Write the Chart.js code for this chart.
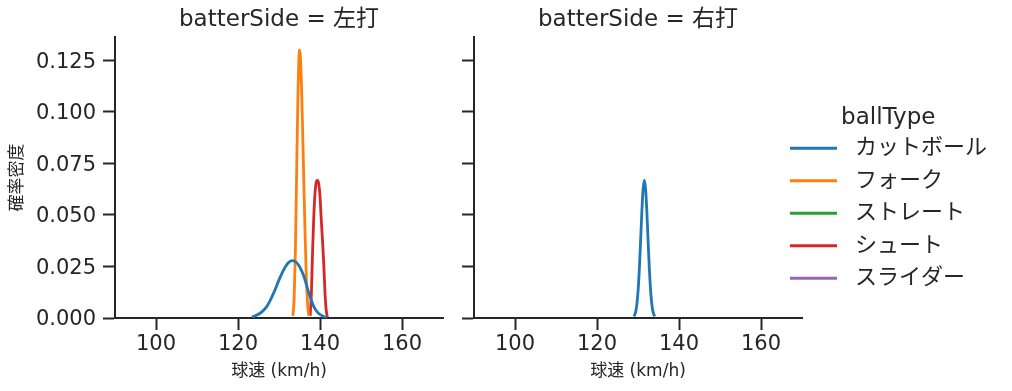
<!DOCTYPE html>
<html>
<head>
<meta charset="utf-8">
<script src="https://cdn.jsdelivr.net/npm/chart.js@4"></script>
<style>
  body { margin: 0; background: #fff; }
  #wrap { position: relative; width: 1012px; height: 391px; overflow: hidden; }
  canvas { position: absolute; top: 0; }
</style>
</head>
<body>
<div id="wrap">
  <canvas id="left-chart" width="450" height="391" style="left:0"></canvas>
  <canvas id="right-chart" width="360" height="391" style="left:450px"></canvas>
  <canvas id="legend-chart" width="520" height="391" style="left:770px"></canvas>
</div>
<script>
const ink = '#262626';
const speedTicks = [100, 120, 140, 160];
const densityTicks = [0, 0.025, 0.05, 0.075, 0.1, 0.125];
const ballTypes = ['カットボール', 'フォーク', 'ストレート', 'シュート', 'スライダー'];
const ballColors = ['#1f77b4', '#ff7f0e', '#2ca02c', '#d62728', '#9467bd'];

// batterSide = 左打
const lhCutterSpeed = [123.4, 124.5, 125.9, 127.0, 127.9, 129.0, 129.9, 130.8, 131.6, 132.4, 133.2, 134.0, 134.8, 135.5, 136.1, 136.7, 137.3, 137.9, 138.5, 139.1, 139.7, 140.5, 141.2, 141.8];
const lhCutterDensity = [0.0004, 0.0013, 0.0031, 0.0055, 0.0087, 0.0135, 0.0180, 0.0220, 0.0250, 0.0270, 0.0278, 0.0273, 0.0256, 0.0230, 0.0200, 0.0160, 0.0120, 0.0085, 0.0055, 0.0035, 0.0022, 0.0011, 0.0004, 0.0001];
const lhForkSpeed = [133.4, 133.7, 134.0, 134.3, 134.6, 134.8, 135.0, 135.2, 135.5, 135.8, 136.1, 136.4, 136.7, 137.0, 137.3];
const lhForkDensity = [0.0010, 0.0100, 0.0330, 0.0700, 0.1060, 0.1230, 0.1300, 0.1270, 0.1120, 0.0880, 0.0620, 0.0380, 0.0180, 0.0060, 0.0010];
const lhShootSpeed = [137.6, 137.9, 138.2, 138.5, 138.8, 139.1, 139.4, 139.7, 140.0, 140.3, 140.6, 140.9, 141.2, 141.5, 141.8];
const lhShootDensity = [0.0010, 0.0120, 0.0330, 0.0500, 0.0610, 0.0660, 0.0667, 0.0650, 0.0590, 0.0480, 0.0380, 0.0270, 0.0130, 0.0040, 0.0005];

// batterSide = 右打
const rhCutterSpeed = [129.0, 129.15, 129.45, 129.75, 130.05, 130.35, 130.65, 130.95, 131.25, 131.55, 131.85, 132.15, 132.45, 132.75, 133.05, 133.35, 133.65, 133.95, 134.1];
const rhCutterDensity = [0.0008, 0.0013, 0.0031, 0.0071, 0.0141, 0.0247, 0.0380, 0.0520, 0.0627, 0.0667, 0.0627, 0.0520, 0.0380, 0.0247, 0.0141, 0.0071, 0.0031, 0.0013, 0.0008];

Chart.defaults.font.family = "'DejaVu Sans', 'Noto Sans CJK JP', sans-serif";
Chart.defaults.color = ink;

function pts(xs, ys) {
  return xs.map((x, i) => ({ x: x, y: ys[i] }));
}

function buildDatasets(curves) {
  return ballTypes.map((name, i) => ({
    label: name,
    data: curves[name] ? pts(curves[name][0], curves[name][1]) : [],
    borderColor: ballColors[i],
    backgroundColor: ballColors[i],
    borderWidth: 2.8,
    pointRadius: 0,
    cubicInterpolationMode: 'monotone',
    fill: false
  }));
}

function panelOptions(title, isLeft) {
  return {
    responsive: false,
    animation: false,
    layout: { padding: { left: 0, right: isLeft ? 7 : 8, top: 0, bottom: 0 } },
    plugins: {
      title: {
        display: true, text: title, fullSize: false, color: ink,
        font: { size: 23, weight: 'normal' }, padding: { top: 6, bottom: 3.4 }
      },
      legend: { display: false },
      tooltip: { enabled: false }
    },
    scales: {
      x: {
        type: 'linear', min: 90, max: 170,
        border: { display: true, color: ink, width: 2 },
        grid: { display: true, drawOnChartArea: false, tickLength: 12, tickWidth: 2, tickColor: ink },
        afterBuildTicks: s => { s.ticks = speedTicks.map(v => ({ value: v })); },
        afterFit: s => { s.height = 73; },
        ticks: { font: { size: 21 }, color: ink, padding: 2, maxRotation: 0, callback: v => String(v) },
        title: { display: true, text: '球速 (km/h)', color: ink, font: { size: 17 }, padding: { top: 0, bottom: 9.5 } }
      },
      y: {
        type: 'linear', min: 0, max: 0.1363,
        border: { display: true, color: ink, width: 2 },
        grid: { display: true, drawOnChartArea: false, tickLength: 12, tickWidth: 2, tickColor: ink },
        afterBuildTicks: s => { s.ticks = densityTicks.map(v => ({ value: v })); },
        afterFit: s => { s.width = isLeft ? 115 : 24; },
        ticks: { display: isLeft, font: { size: 21 }, color: ink, padding: 7, labelOffset: 2, callback: v => v.toFixed(3) },
        title: { display: isLeft, text: '確率密度', color: ink, font: { size: 17 }, padding: { top: 7, bottom: 0 } }
      }
    }
  };
}

new Chart(document.getElementById('left-chart'), {
  type: 'line',
  data: {
    datasets: buildDatasets({
      'カットボール': [lhCutterSpeed, lhCutterDensity],
      'フォーク': [lhForkSpeed, lhForkDensity],
      'シュート': [lhShootSpeed, lhShootDensity]
    })
  },
  options: panelOptions('batterSide = 左打', true)
});

new Chart(document.getElementById('right-chart'), {
  type: 'line',
  data: {
    datasets: buildDatasets({
      'カットボール': [rhCutterSpeed, rhCutterDensity]
    })
  },
  options: panelOptions('batterSide = 右打', false)
});

// legend shared by both panels
new Chart(document.getElementById('legend-chart'), {
  type: 'line',
  data: { datasets: buildDatasets({}) },
  options: {
    responsive: false,
    animation: false,
    layout: { padding: { left: 9.5, top: 15 } },
    scales: { x: { display: false }, y: { display: false } },
    plugins: {
      tooltip: { enabled: false },
      legend: {
        position: 'left',
        align: 'center',
        title: { display: true, text: 'ballType', color: ink, font: { size: 23, lineHeight: 0.9 }, padding: 0 },
        labels: {
          color: ink,
          font: { size: 22 },
          boxWidth: 47,
          boxHeight: 3,
          padding: 10.5,
          generateLabels: () => ballTypes.map((name, i) => ({
            text: ' ' + name,
            fillStyle: ballColors[i],
            strokeStyle: ballColors[i],
            lineWidth: 0,
            hidden: false,
            datasetIndex: i
          }))
        }
      }
    }
  }
});
</script>
</body>
</html>
